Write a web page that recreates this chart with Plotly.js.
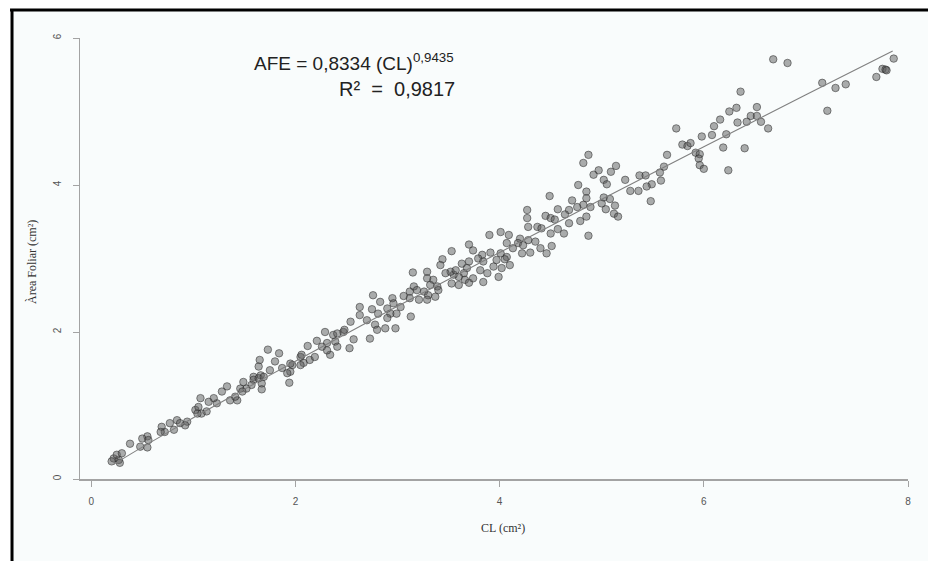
<!DOCTYPE html>
<html>
<head>
<meta charset="utf-8">
<script src="https://cdn.plot.ly/plotly-3.0.1.min.js"></script>
<style>html,body{margin:0;padding:0;background:#fff;overflow:hidden;}#chart{width:928px;height:561px;}</style>
</head>
<body>
<div id="chart"></div>
<script>
const cl = [
6.68,6.82,7.86,7.75,7.78,7.79,7.69,7.16,7.29,7.39,7.21,6.36,6.25,6.32,6.52,6.46,6.52,6.42,6.56,6.63,
6.33,6.16,6.10,5.73,6.22,6.08,5.98,5.79,5.84,5.87,6.19,6.40,5.92,5.96,5.95,5.64,5.96,6.00,6.24,5.61,
5.57,5.58,5.49,5.44,5.48,5.37,5.43,5.23,5.28,5.36,5.09,5.14,5.02,5.05,5.02,5.08,5.04,5.13,5.12,5.16,
5.00,4.87,4.82,4.97,4.92,
4.77,4.49,4.85,4.85,4.71,4.82,4.76,4.68,4.89,4.57,4.64,4.27,4.45,4.50,4.54,4.68,4.79,4.85,4.87,4.63,
4.28,4.37,4.41,4.27,4.50,4.57,4.20,4.28,4.35,4.18,4.23,4.40,4.51,4.46,4.22,4.30,3.90,4.01,4.09,4.07,
4.13,3.70,3.74,3.53,3.83,3.91,4.01,4.07,3.79,3.70,3.63,3.84,3.97,4.05,3.94,4.02,4.10,3.81,3.88,3.99,
3.68,3.65,3.60,3.55,3.52,3.57,3.66,3.60,3.53,3.70,3.84,3.74,3.44,3.42,3.47,3.35,3.39,3.32,3.29,3.29,
3.15,3.16,3.12,3.19,3.26,3.30,3.40,3.37,3.29,3.21,3.12,3.06,2.95,2.96,3.03,2.90,2.93,2.99,2.76,2.83,
2.63,2.75,2.81,2.90,3.13,2.54,2.63,2.70,2.78,2.80,2.88,2.98,2.73,2.57,2.53,2.37,2.29,2.47,2.39,2.31,
2.26,2.34,
2.48,2.41,2.21,2.12,2.31,2.05,1.97,2.14,2.19,2.08,1.73,1.84,1.65,1.64,1.80,1.87,1.75,1.66,1.59,1.95,
2.41,2.06,2.05,1.95,1.94,1.92,1.59,1.64,1.69,1.67,1.57,1.52,1.46,1.49,1.67,1.43,1.36,1.33,1.41,1.28,
1.48,1.23,1.20,1.15,1.13,1.02,1.08,1.05,1.07,1.04,0.94,0.92,0.84,0.87,0.77,0.81,0.69,0.72,0.68,0.55,
0.50,0.56,0.48,0.55,0.38,0.22,0.27,0.25,0.30,0.20,0.28
];
const afe = [
5.71,5.66,5.72,5.58,5.57,5.56,5.47,5.39,5.32,5.37,5.01,5.27,5.00,5.05,5.06,4.94,4.94,4.86,4.86,4.77,
4.85,4.89,4.80,4.77,4.69,4.68,4.66,4.55,4.53,4.57,4.51,4.50,4.44,4.42,4.36,4.41,4.27,4.22,4.20,4.25,
4.17,4.06,4.01,3.98,3.78,4.13,4.13,4.07,3.92,3.92,4.18,4.26,4.07,4.01,3.83,3.81,3.67,3.72,3.61,3.57,
3.75,4.41,4.30,4.20,4.14,
4.00,3.85,3.91,3.82,3.79,3.73,3.70,3.66,3.70,3.67,3.60,3.66,3.58,3.55,3.53,3.48,3.51,3.57,3.31,3.34,
3.43,3.43,3.41,3.55,3.34,3.40,3.27,3.25,3.23,3.21,3.18,3.14,3.17,3.07,3.07,3.08,3.32,3.36,3.32,3.21,
3.14,3.19,3.11,3.10,3.05,3.08,3.07,3.02,3.00,2.96,2.93,2.96,2.98,2.99,2.89,2.87,2.91,2.84,2.80,2.75,
2.87,2.80,2.75,2.78,2.82,2.84,2.71,2.64,2.66,2.67,2.68,2.73,2.99,2.91,2.80,2.71,2.62,2.64,2.82,2.73,
2.81,2.62,2.55,2.57,2.55,2.50,2.57,2.48,2.44,2.44,2.46,2.49,2.46,2.39,2.34,2.32,2.25,2.25,2.50,2.41,
2.34,2.31,2.25,2.19,2.21,2.14,2.23,2.16,2.10,2.03,2.05,2.05,1.91,1.90,1.78,1.96,2.00,2.00,1.87,1.85,
1.80,1.69,
2.03,1.80,1.88,1.81,1.75,1.66,1.55,1.62,1.66,1.58,1.76,1.71,1.62,1.53,1.60,1.51,1.48,1.41,1.39,1.46,
1.98,1.69,1.55,1.57,1.31,1.44,1.35,1.37,1.39,1.30,1.28,1.23,1.23,1.32,1.22,1.07,1.07,1.26,1.12,1.19,
1.19,1.03,1.10,1.05,0.92,0.94,0.89,0.98,1.10,0.89,0.78,0.73,0.80,0.76,0.76,0.67,0.71,0.64,0.64,0.58,
0.55,0.53,0.44,0.43,0.48,0.28,0.26,0.33,0.35,0.24,0.22
];
// Fitted model printed on the chart: AFE = 0.8334 * CL^0.9435
const fitA = 0.8334;
const fitB = 0.9435;
const fitX = [0.22, 0.5, 1, 1.5, 2, 3, 4, 5, 6, 7, 7.85];
const fitY = fitX.map(v => fitA * Math.pow(v, fitB));

const xTicks = [0, 2, 4, 6, 8];
const yTicks = [0, 2, 4, 6];

const eqText = 'AFE = 0,8334 (CL)<sup>0,9435</sup>';
const r2Text = 'R²\u00a0\u00a0=\u00a0\u00a00,9817';
const xTitle = 'CL (cm²)';
const yTitle = 'Àrea Foliar (cm²)';

const axisCol = '#a3a3a3';
const tickFont = {family: 'Liberation Sans, Arial, sans-serif', size: 10, color: '#555'};

const traces = [
  {
    x: cl, y: afe, type: 'scatter', mode: 'markers',
    marker: {size: 7.5, color: 'rgba(90,90,90,0.5)', line: {color: 'rgba(35,35,35,0.5)', width: 1}},
    hoverinfo: 'x+y', showlegend: false
  },
  {
    x: fitX, y: fitY, type: 'scatter', mode: 'lines',
    line: {color: '#808080', width: 1.1, shape: 'spline'},
    hoverinfo: 'skip', showlegend: false
  }
];

const layout = {
  width: 928, height: 561,
  margin: {l: 80, r: 20, t: 38, b: 82, pad: 0},
  paper_bgcolor: '#ffffff',
  plot_bgcolor: 'rgba(0,0,0,0)',
  showlegend: false,
  xaxis: {
    range: [-0.11, 8], tickvals: xTicks, ticktext: xTicks.map(String),
    showline: true, linecolor: axisCol, linewidth: 1.5,
    ticks: 'outside', ticklen: 6, tickwidth: 1, tickcolor: axisCol,
    tickfont: tickFont, ticklabelstandoff: 6,
    showgrid: false, zeroline: false, fixedrange: true
  },
  yaxis: {
    range: [0, 6], tickvals: yTicks, ticktext: yTicks.map(String),
    tickangle: -90,
    showline: true, linecolor: axisCol, linewidth: 1.5,
    ticks: 'outside', ticklen: 6, tickwidth: 1, tickcolor: axisCol,
    tickfont: tickFont, ticklabelstandoff: 8,
    showgrid: false, zeroline: false, fixedrange: true
  },
  annotations: [
    {text: eqText, xref: 'x', yref: 'y', x: 3.575, y: 5.68, xanchor: 'right', yanchor: 'middle',
     showarrow: false, font: {family: 'Liberation Sans, Arial, sans-serif', size: 19, color: '#222'}},
    {text: r2Text, xref: 'x', yref: 'y', x: 3.585, y: 5.30, xanchor: 'right', yanchor: 'middle',
     showarrow: false, font: {family: 'Liberation Sans, Arial, sans-serif', size: 20, color: '#222'}},
    {text: xTitle, xref: 'paper', yref: 'paper', x: 0.511, y: -0.111, xanchor: 'center', yanchor: 'middle',
     showarrow: false, font: {family: 'Liberation Serif, Times New Roman, serif', size: 12, color: '#333'}},
    {text: yTitle, xref: 'paper', yref: 'paper', x: -0.058, y: 0.492, xanchor: 'center', yanchor: 'middle',
     textangle: -90, showarrow: false, font: {family: 'Liberation Serif, Times New Roman, serif', size: 12, color: '#333'}}
  ],
  shapes: [
    {type: 'rect', xref: 'paper', yref: 'paper', x0: -0.0833, x1: 1.0242, y0: -0.186, y1: 1.0635,
     fillcolor: '#f9fcfc', line: {width: 0, color: 'rgba(0,0,0,0)'}, layer: 'below'},
    {type: 'line', xref: 'paper', yref: 'paper', x0: -0.0845, x1: 1.0242, y0: 1.0635, y1: 1.0635,
     line: {color: '#000', width: 3}},
    {type: 'line', xref: 'paper', yref: 'paper', x0: -0.0821, x1: -0.0821, y0: 1.0635, y1: -0.186,
     line: {color: '#000', width: 3}}
  ]
};

Plotly.newPlot('chart', traces, layout, {displayModeBar: false, staticPlot: true});
</script>
</body>
</html>
